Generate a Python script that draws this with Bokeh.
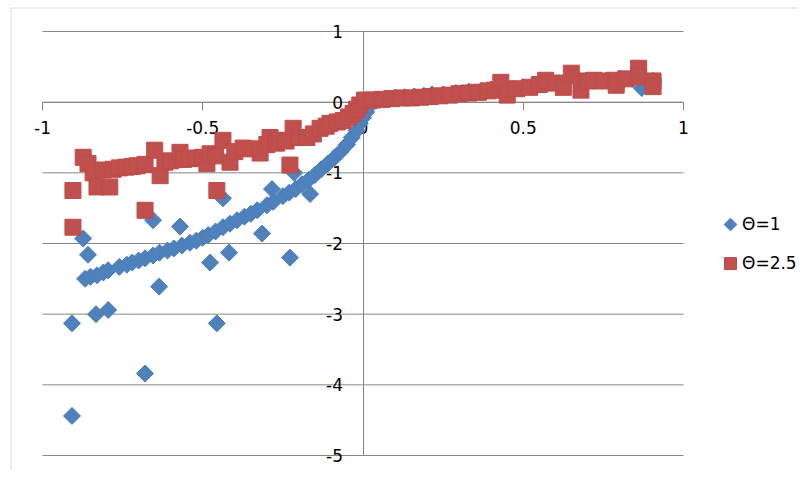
import numpy as np
from bokeh.plotting import figure
from bokeh.models import Legend, LegendItem, BoxAnnotation, FixedTicker, Range1d
from bokeh.embed import file_html
from bokeh.resources import INLINE

# ---- data ----
series_labels = ["\u0398=1", "\u0398=2.5"]

theta1_x = [-0.908, -0.908, -0.873, -0.867, -0.858, -0.850, -0.833, -0.830, -0.810, -0.795,
            -0.795, -0.760, -0.737, -0.720, -0.700, -0.680, -0.680, -0.655, -0.655, -0.636,
            -0.635, -0.610, -0.590, -0.571, -0.565, -0.540, -0.520, -0.500, -0.483, -0.477,
            -0.460, -0.456, -0.437, -0.437, -0.418, -0.415, -0.393, -0.370, -0.350, -0.330,
            -0.315, -0.300, -0.284, -0.280, -0.250, -0.230, -0.228, -0.215, -0.210, -0.190,
            -0.170, -0.165, -0.150, -0.130, -0.110, -0.090, -0.070, -0.050, -0.035, -0.020,
            -0.010, 0.000, 0.010, 0.020, 0.040, 0.070, 0.100, 0.130, 0.160, 0.190,
            0.215, 0.250, 0.290, 0.330, 0.370, 0.400, 0.430, 0.470, 0.500, 0.540,
            0.570, 0.610, 0.650, 0.690, 0.720, 0.760, 0.800, 0.840, 0.870, 0.905]
theta1_y = [-4.44, -3.13, -1.93, -2.50, -2.16, -2.47, -3.00, -2.45, -2.41, -2.38,
            -2.94, -2.33, -2.30, -2.27, -2.24, -2.21, -3.84, -2.17, -1.67, -2.61,
            -2.13, -2.10, -2.07, -1.76, -2.03, -1.99, -1.96, -1.92, -1.88, -2.27,
            -1.83, -3.13, -1.77, -1.36, -2.13, -1.72, -1.67, -1.62, -1.58, -1.53,
            -1.86, -1.46, -1.23, -1.41, -1.33, -1.28, -2.20, -1.00, -1.23, -1.16,
            -1.10, -1.30, -1.03, -0.95, -0.87, -0.79, -0.70, -0.60, -0.50, -0.40,
            -0.30, -0.22, -0.14, -0.05, 0.02, 0.04, 0.06, 0.07, 0.08, 0.09,
            0.11, 0.11, 0.13, 0.15, 0.16, 0.18, 0.25, 0.19, 0.21, 0.24,
            0.29, 0.27, 0.37, 0.28, 0.30, 0.31, 0.33, 0.33, 0.20, 0.30]

theta25_x = [-0.905, -0.905, -0.873, -0.858, -0.842, -0.830, -0.810, -0.790, -0.780, -0.760,
             -0.740, -0.720, -0.705, -0.680, -0.680, -0.650, -0.633, -0.618, -0.600, -0.571,
             -0.560, -0.540, -0.520, -0.500, -0.487, -0.477, -0.460, -0.456, -0.437, -0.415,
             -0.400, -0.374, -0.350, -0.321, -0.300, -0.290, -0.270, -0.259, -0.240, -0.228,
             -0.218, -0.200, -0.175, -0.155, -0.134, -0.115, -0.103, -0.080, -0.062, -0.045,
             -0.031, -0.020, -0.010, 0.005, 0.030, 0.060, 0.090, 0.120, 0.150, 0.180,
             0.210, 0.240, 0.270, 0.300, 0.330, 0.360, 0.390, 0.410, 0.430, 0.450,
             0.480, 0.520, 0.550, 0.570, 0.600, 0.625, 0.650, 0.680, 0.700, 0.720,
             0.750, 0.790, 0.790, 0.820, 0.860, 0.860, 0.905, 0.905]
theta25_y = [-1.25, -1.77, -0.78, -0.87, -1.00, -1.20, -0.96, -1.20, -0.95, -0.93,
             -0.92, -0.91, -0.90, -0.88, -1.53, -0.68, -1.04, -0.85, -0.83, -0.71,
             -0.81, -0.80, -0.79, -0.78, -0.87, -0.73, -0.76, -1.25, -0.54, -0.85,
             -0.70, -0.65, -0.66, -0.72, -0.60, -0.50, -0.58, -0.54, -0.55, -0.89,
             -0.37, -0.50, -0.50, -0.45, -0.37, -0.34, -0.30, -0.28, -0.26, -0.21,
             -0.16, -0.10, -0.04, 0.03, 0.03, 0.04, 0.05, 0.06, 0.06, 0.07,
             0.08, 0.09, 0.10, 0.12, 0.13, 0.14, 0.16, 0.17, 0.28, 0.10,
             0.19, 0.21, 0.25, 0.31, 0.27, 0.21, 0.41, 0.17, 0.30, 0.31,
             0.30, 0.31, 0.24, 0.33, 0.48, 0.36, 0.30, 0.22]

x_ticks = [-1, -0.5, 0, 0.5, 1]
x_tick_labels = ["-1", "-0.5", "0", "0.5", "1"]
y_ticks = [1, 0, -1, -2, -3, -4, -5]
y_tick_labels = ["1", "0", "-1", "-2", "-3", "-4", "-5"]

# ---- style / layout ----
BLUE = "#4F81BD"
BLUE_EDGE = "#4A7EBB"
RED = "#C0504D"
RED_EDGE = "#BE4B48"
GRAY = "#868686"
FONT = "DejaVu Sans"

W, H = 798, 470
# plot-area margins in pixels (the frame covers the whole canvas so that
# the axes, labels and legend are not clipped)
ML, MR, MT, MB = 42, 115, 31, 15
xs = (W - ML - MR) / (x_ticks[-1] - x_ticks[0])
ys = (H - MT - MB) / (y_ticks[0] - y_ticks[-1])
x_range = Range1d(x_ticks[0] - ML / xs, x_ticks[-1] + MR / xs)
y_range = Range1d(y_ticks[-1] - MB / ys, y_ticks[0] + MT / ys)


def px_to_data(px, py):
    return x_range.start + px / xs, y_range.end - py / ys


p = figure(width=W, height=H, x_range=x_range, y_range=y_range,
           output_backend="svg", toolbar_location=None,
           min_border=0)
p.outline_line_color = None
p.background_fill_color = "white"
p.border_fill_color = "white"

# horizontal gridlines spanning the plot area only
p.segment(x0=[x_ticks[0]] * len(y_ticks), y0=y_ticks,
          x1=[x_ticks[-1]] * len(y_ticks), y1=y_ticks,
          line_color=GRAY, line_width=1, level="underlay")
p.xgrid.visible = False
p.ygrid.visible = False

# axes crossing at origin
for ax in (p.xaxis[0], p.yaxis[0]):
    ax.fixed_location = 0
    ax.axis_line_color = GRAY
    ax.axis_line_width = 1
    ax.major_tick_line_color = GRAY
    ax.minor_tick_in = 0
    ax.minor_tick_out = 0
    ax.major_label_text_font = FONT
    ax.major_label_text_font_size = "17px"
    ax.major_label_text_color = "black"

p.xaxis.ticker = FixedTicker(ticks=x_ticks)
p.xaxis.major_label_overrides = dict(zip(x_ticks, x_tick_labels))
p.xaxis.bounds = (x_ticks[0], x_ticks[-1])
p.xaxis.major_tick_in = 0
p.xaxis.major_tick_out = 8
p.xaxis.major_label_standoff = 11

p.yaxis.ticker = FixedTicker(ticks=y_ticks)
p.yaxis.major_label_overrides = dict(zip(y_ticks, y_tick_labels))
p.yaxis.bounds = (y_ticks[-1], y_ticks[0])
p.yaxis.major_tick_in = 0
p.yaxis.major_tick_out = 0
p.yaxis.major_label_standoff = 20

r1 = p.scatter(theta1_x, theta1_y, marker="square", angle=np.pi / 4, size=12,
               fill_color=BLUE, line_color=BLUE_EDGE, line_width=1)
r2 = p.scatter(theta25_x, theta25_y, marker="square", size=16,
               fill_color=RED, line_color=RED_EDGE, line_width=1)
r1.level = "overlay"
r2.level = "overlay"

# legend: labels from a Legend, symbols drawn as rotated/plain squares
proxy1 = p.scatter([], [], marker="square", fill_alpha=0, line_alpha=0)
proxy2 = p.scatter([], [], marker="square", fill_alpha=0, line_alpha=0)
legend = Legend(items=[LegendItem(label=series_labels[0], renderers=[proxy1]),
                       LegendItem(label=series_labels[1], renderers=[proxy2])],
                location=(704, 181), orientation="vertical",
                glyph_width=28, glyph_height=32, label_standoff=0, spacing=7,
                padding=10, margin=0,
                label_text_font=FONT, label_text_font_size="17px",
                label_text_color="black",
                border_line_alpha=0, background_fill_alpha=0)
p.add_layout(legend)

lx1, ly1 = px_to_data(730, 224)
lx2, ly2 = px_to_data(730, 263)
p.scatter([lx1], [ly1], marker="square", angle=np.pi / 4, size=9,
          fill_color=BLUE, line_color=BLUE_EDGE, line_width=1)
p.scatter([lx2], [ly2], marker="square", size=12,
          fill_color=RED, line_color=RED_EDGE, line_width=1)

# chart area border
border = BoxAnnotation(left=10.5, right=3000, top=7.5, bottom=3000,
                       left_units="canvas", right_units="canvas",
                       top_units="canvas", bottom_units="canvas",
                       fill_alpha=0, line_color="#8C8C8C", line_width=1)
p.add_layout(border)

open("out.html", "w").write(file_html(p, INLINE))
